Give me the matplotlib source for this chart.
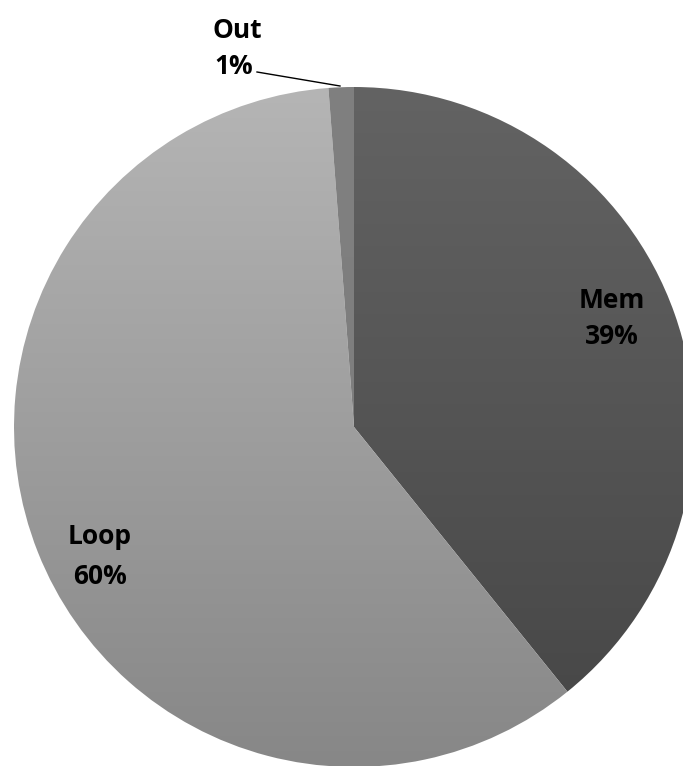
import numpy as np
import matplotlib.pyplot as plt
from matplotlib.colors import LinearSegmentedColormap

# slice data (clockwise from 12 o'clock)
labels = ["Mem", "Loop", "Out"]
shares = [39.2, 59.6, 1.2]
pct_text = ["39%", "60%", "1%"]
# (top colour, bottom colour) of the vertical gradient in each slice
grad_colors = [("#636363", "#454545"), ("#b5b5b5", "#878787"), ("#808080", "#7c7c7c")]

W, H = 683, 766
cx, cy, r = 354, H - 427, 340

fig = plt.figure(figsize=(W / 100, H / 100), dpi=100)
ax = fig.add_axes([0, 0, 1, 1])

wedges, _ = ax.pie(shares, startangle=90, counterclock=False, center=(cx, cy),
                   radius=r, frame=True, wedgeprops=dict(linewidth=0))
ax.set_xlim(0, W)
ax.set_ylim(0, H)
ax.set_aspect("equal")
ax.axis("off")

# fill each wedge with a top-to-bottom gradient clipped to the wedge
grad = np.linspace(0, 1, 256).reshape(-1, 1)
for w, (c_top, c_bot) in zip(wedges, grad_colors):
    w.set_facecolor("none")
    cmap = LinearSegmentedColormap.from_list("g", [c_top, c_bot])
    im = ax.imshow(grad, cmap=cmap, aspect="auto", origin="upper",
                   extent=(cx - r, cx + r, cy - r, cy + r), zorder=1)
    im.set_clip_path(w)

font = dict(fontsize=19, fontweight="bold", family="Open Sans", color="black",
            ha="center", va="center")

# labels (positions, pixel coords from top)
ax.text(612, H - 300, labels[0], **font)
ax.text(612, H - 337, pct_text[0], **font)
ax.text(100, H - 537, labels[1], **font)
ax.text(100, H - 577, pct_text[1], **font)
ax.text(237, H - 30, labels[2], **font)
ax.text(234, H - 67, pct_text[2], **font)

# leader line for the small slice
ax.plot([257, 340], [H - 72, H - 86], color="black", lw=1, zorder=3)

fig.savefig("out.png", dpi=100, facecolor="white")
